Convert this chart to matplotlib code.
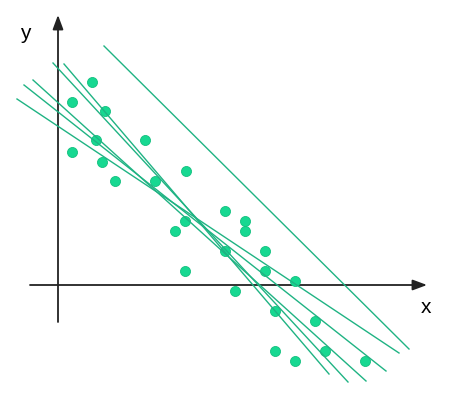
import matplotlib
matplotlib.use("Agg")
import matplotlib.pyplot as plt

# scatter points (origin at the axis crossing)
pts_x = [3.4, 1.4, 4.7, 3.8, 8.7, 1.4, 4.4, 5.7, 9.7, 12.8, 12.7, 11.7, 16.7, 16.7,
         12.7, 18.7, 18.7, 20.7, 20.7, 23.7, 17.7, 21.7, 25.7, 21.7, 26.7, 23.7, 30.7]
pts_y = [20.3, 18.3, 17.4, 14.5, 14.5, 13.3, 12.3, 10.4, 10.4, 11.4, 6.4, 5.4, 7.4, 3.4,
         1.4, 6.4, 5.4, 3.4, 1.4, 0.4, -0.6, -2.6, -3.6, -6.6, -6.6, -7.6, -7.6]

# candidate lines, start and end points
line_x0 = [4.6, -4.1, -3.4, -2.5, -0.5, 0.6]
line_y0 = [23.9, 18.6, 20.0, 20.5, 22.2, 22.1]
line_x1 = [35.1, 34.1, 32.8, 30.8, 29.0, 27.1]
line_y1 = [-6.4, -6.8, -8.6, -9.6, -9.7, -8.9]

dot_color = '#17d891'
line_color = '#1fb383'
axis_color = '#222222'

fig = plt.figure(figsize=(4.55, 3.93), dpi=100)
ax = fig.add_axes([0, 0, 1, 1])
ax.set_xlim(-5.8, 39.7)
ax.set_ylim(-10.8, 28.5)
ax.axis('off')

arrow = dict(arrowstyle='-|>,head_length=0.86,head_width=0.32', color=axis_color,
             lw=1.3, mutation_scale=10, shrinkA=0, shrinkB=0)
ax.annotate('', xy=(0, 27.0), xytext=(0, -3.7), arrowprops=arrow, zorder=1)
ax.annotate('', xy=(36.9, 0), xytext=(-2.8, 0), arrowprops=arrow, zorder=1)

ax.text(36.8, -2.8, 'x', fontsize=15, family='Liberation Sans', ha='center', va='baseline')
ax.text(-3.25, 24.6, 'y', fontsize=15, family='Liberation Sans', ha='center', va='baseline')

ax.scatter(pts_x, pts_y, s=52, color=dot_color, edgecolors='#12c07f', linewidths=0.6, zorder=2)

for x0, y0, x1, y1 in zip(line_x0, line_y0, line_x1, line_y1):
    ax.plot([x0, x1], [y0, y1], color=line_color, lw=1.0, zorder=3)

fig.savefig('out.png', dpi=100)
